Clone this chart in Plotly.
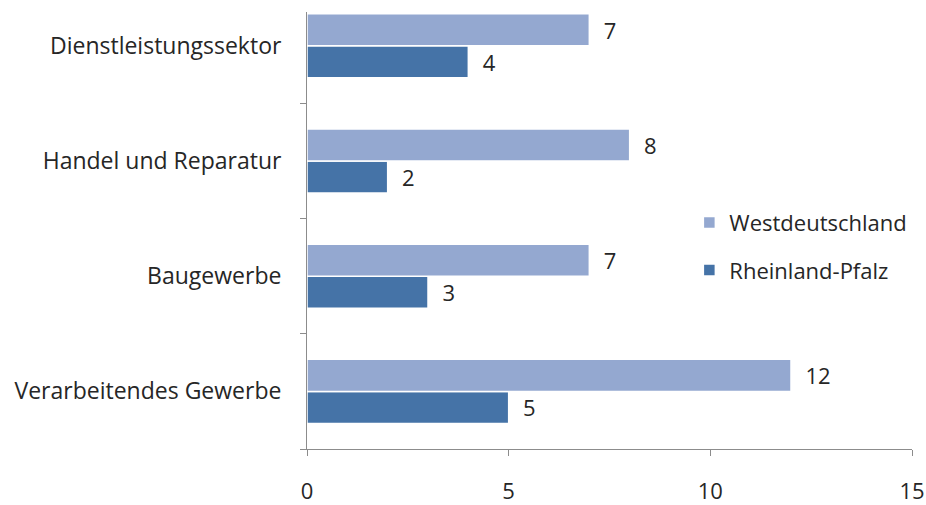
import plotly.graph_objects as go

# Sectors, bottom to top as plotted on the category axis
sectors = ["Verarbeitendes Gewerbe", "Baugewerbe", "Handel und Reparatur", "Dienstleistungssektor"]
west = [12, 7, 8, 7]
rlp = [5, 3, 2, 4]

x_ticks = [0, 5, 10, 15]

font_family = "'Open Sans', Lato, sans-serif"
text_color = "#262626"
axis_color = "#8C8C8C"

fig = go.Figure()

fig.add_trace(go.Bar(
    y=sectors, x=rlp, orientation="h", name="Rheinland-Pfalz",
    marker=dict(color="#4573A7", line=dict(color="white", width=1.5)),
    text=rlp, texttemplate="  %{x}", textposition="outside", cliponaxis=False,
    textfont=dict(size=22, color=text_color, family=font_family),
    legendgroup="rlp", legendrank=2,
))
fig.add_trace(go.Bar(
    y=sectors, x=west, orientation="h", name="Westdeutschland",
    marker=dict(color="#94A8D0", line=dict(color="white", width=1.5)),
    text=west, texttemplate="  %{x}", textposition="outside", cliponaxis=False,
    textfont=dict(size=22, color=text_color, family=font_family),
    legendgroup="west", legendrank=1,
))

fig.update_layout(
    width=926, height=505,
    margin=dict(l=307, r=14, t=12, b=56, autoexpand=False),
    paper_bgcolor="white", plot_bgcolor="white",
    barmode="group", bargap=0.444, bargroupgap=0.0,
    font=dict(family=font_family, size=22, color=text_color),
    showlegend=True,
    legend=dict(
        x=0.632, y=0.463, xanchor="left", yanchor="middle",
        traceorder="grouped", tracegroupgap=16,
        font=dict(size=22, color=text_color),
        itemwidth=30, bgcolor="rgba(0,0,0,0)",
    ),
    xaxis=dict(
        range=[0, 15], tickvals=x_ticks, ticktext=[str(v) for v in x_ticks],
        showgrid=False, zeroline=False, automargin=False,
        showline=True, linecolor=axis_color, linewidth=1,
        ticks="outside", ticklen=6, tickcolor=axis_color,
        ticklabelstandoff=17, tickfont=dict(size=22),
    ),
    yaxis=dict(
        type="category", range=[-0.5, 3.293], automargin=False,
        showgrid=False, zeroline=False,
        showline=True, linecolor=axis_color, linewidth=1,
        ticks="outside", ticklen=6, tickcolor=axis_color,
        tickson="boundaries", ticklabelstandoff=20,
        tickfont=dict(size=23),
    ),
)

fig.write_html("out.html")
